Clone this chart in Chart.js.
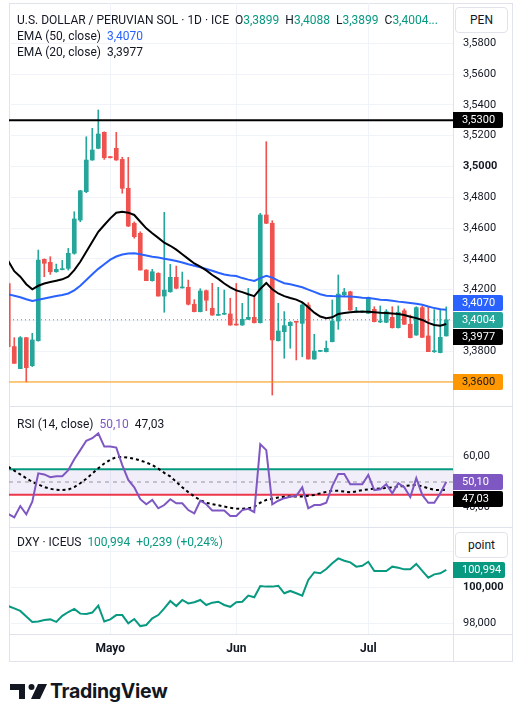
<!DOCTYPE html>
<html>
<head>
<meta charset="utf-8">
<script src="https://cdn.jsdelivr.net/npm/chart.js@4.4.1/dist/chart.umd.min.js"></script>
<style>
  body { margin: 0; background: #fff; }
  #wrap { position: relative; width: 526px; height: 711px; font-family: Roboto, "Liberation Sans", sans-serif; color: #131722; overflow: hidden; }
  #wrap canvas { position: absolute; left: 0; }
  .ln { position: absolute; background: #e0e3eb; }
  .legend { position: absolute; left: 17px; font-size: 12px; line-height: 16px; white-space: nowrap; }
  .legend span { margin-left: 6px; }
  .unit { position: absolute; left: 455px; width: 51px; height: 24px; border: 1px solid #e0e3eb; border-radius: 4px; background: #fff; font-size: 12px; line-height: 24px; text-align: center; }
  #logo { position: absolute; left: 10px; top: 682px; height: 22px; }
  #logo span { position: absolute; left: 40px; top: -3px; font-family: Inter, Roboto, sans-serif; font-weight: 700; font-size: 19.5px; letter-spacing: -0.3px; color: #131722; }
</style>
</head>
<body>
<div id="wrap">
  <div class="ln" style="left:9px;top:3px;width:503px;height:1px"></div>
  <div class="ln" style="left:9px;top:661px;width:504px;height:1px"></div>
  <div class="ln" style="left:9px;top:3px;width:1px;height:658px"></div>
  <div class="ln" style="left:512px;top:3px;width:1px;height:658px"></div>
  <div class="ln" style="left:453px;top:3px;width:1px;height:658px"></div>
  <div class="ln" style="left:9px;top:406px;width:503px;height:1px"></div>
  <div class="ln" style="left:9px;top:527px;width:503px;height:1px"></div>
  <div class="ln" style="left:9px;top:634px;width:503px;height:1px"></div>

  <canvas id="mainChart" width="526" height="406" style="top:0"></canvas>
  <canvas id="rsiChart" width="526" height="120" style="top:407px"></canvas>
  <canvas id="dxyChart" width="526" height="133" style="top:528px"></canvas>

  <div class="legend" style="top:12px">U.S. DOLLAR / PERUVIAN SOL · 1D · ICE<span>O<b style="font-weight:normal;color:#089981">3,3899</b></span><span>H<b style="font-weight:normal;color:#089981">3,4088</b></span><span>L<b style="font-weight:normal;color:#089981">3,3899</b></span><span>C<b style="font-weight:normal;color:#089981">3,4004...</b></span></div>
  <div class="legend" style="top:28px">EMA (50, close)<span style="color:#2962ff">3,4070</span></div>
  <div class="legend" style="top:44px">EMA (20, close)<span>3,3977</span></div>
  <div class="legend" style="top:416px">RSI (14, close)<span style="color:#7e57c2">50,10</span><span>47,03</span></div>
  <div class="legend" style="top:534px">DXY · ICEUS<span style="color:#089981">100,994</span><span style="color:#089981">+0,239</span><span style="color:#089981;margin-left:4px">(+0,24%)</span></div>

  <div class="unit" style="top:7px">PEN</div>
  <div class="unit" style="top:532px">point</div>

  <div id="logo">
    <svg width="40" height="18" viewBox="0 0 40 18" style="position:absolute;left:0;top:2px">
      <path d="M0 0 H15 V15 H9 V6 H0 Z" fill="#131722"/>
      <circle cx="21.5" cy="3" r="3" fill="#131722"/>
      <path d="M28 0 H37 L30 15 H21 Z" fill="#131722"/>
    </svg>
    <span>TradingView</span>
  </div>
</div>

<script>
// USD/PEN daily candles, one entry per bar
const opens = [3.4240, 3.3830, 3.3687, 3.3888, 3.3706, 3.3868, 3.4397, 3.4377, 3.4316, 3.4330,
  3.4338, 3.4436, 3.4652, 3.4836, 3.5042, 3.5118, 3.5222, 3.5064, 3.5118, 3.5046,
  3.4858, 3.4631, 3.4566, 3.4327, 3.4258, 3.4306, 3.4158, 3.4186, 3.4280, 3.4211,
  3.4215, 3.4105, 3.4057, 3.4193, 3.4079, 3.4033, 3.4040, 3.4042, 3.3972, 3.3970,
  3.4007, 3.4020, 3.3985, 3.4685, 3.4631, 3.3868, 3.3927, 3.3966, 3.3990, 3.3981,
  3.4100, 3.3749, 3.3799, 3.3797, 3.3862, 3.3996, 3.4167, 3.4186, 3.4055, 3.4055,
  3.4046, 3.4072, 3.3990, 3.3988, 3.4020, 3.3953, 3.4063, 3.3975, 3.3905, 3.4083,
  3.3899, 3.3797, 3.3791, 3.3899];
const highs = [3.4245, 3.3888, 3.3895, 3.3890, 3.3916, 3.4457, 3.4400, 3.4414, 3.4366, 3.4390,
  3.4468, 3.4706, 3.4845, 3.5193, 3.5248, 3.5367, 3.5225, 3.5066, 3.5222, 3.5060,
  3.5059, 3.4640, 3.4576, 3.4330, 3.4332, 3.4310, 3.4702, 3.4364, 3.4353, 3.4314,
  3.4262, 3.4135, 3.4206, 3.4197, 3.4241, 3.4215, 3.4197, 3.4144, 3.4240, 3.4111,
  3.4208, 3.4160, 3.4696, 3.5161, 3.4648, 3.4111, 3.4057, 3.3992, 3.3992, 3.4118,
  3.4115, 3.3910, 3.3805, 3.3866, 3.4133, 3.4295, 3.4208, 3.4190, 3.4085, 3.4062,
  3.4152, 3.4089, 3.4094, 3.4070, 3.4089, 3.4094, 3.4075, 3.4035, 3.4089, 3.4092,
  3.4089, 3.4070, 3.4074, 3.4088];
const lows = [3.3829, 3.3721, 3.3687, 3.3600, 3.3700, 3.3865, 3.4284, 3.4299, 3.4313, 3.4328,
  3.4327, 3.4430, 3.4641, 3.4830, 3.5040, 3.5115, 3.5046, 3.5055, 3.5040, 3.4826,
  3.4609, 3.4534, 3.4327, 3.4258, 3.4255, 3.4158, 3.4053, 3.4183, 3.4205, 3.4210,
  3.4100, 3.4055, 3.4055, 3.4063, 3.4033, 3.4032, 3.4038, 3.3968, 3.3968, 3.3968,
  3.4005, 3.3983, 3.3983, 3.4629, 3.3515, 3.3866, 3.3754, 3.3819, 3.3743, 3.3764,
  3.3749, 3.3747, 3.3797, 3.3795, 3.3860, 3.3942, 3.4160, 3.4065, 3.4050, 3.4052,
  3.4044, 3.3990, 3.3985, 3.3985, 3.3950, 3.3950, 3.3973, 3.3886, 3.3903, 3.3888,
  3.3797, 3.3792, 3.3789, 3.3899];
const closes = [3.3830, 3.3721, 3.3888, 3.3693, 3.3873, 3.4392, 3.4371, 3.4316, 3.4332, 3.4335,
  3.4436, 3.4659, 3.4842, 3.5042, 3.5107, 3.5211, 3.5057, 3.5057, 3.5042, 3.4858,
  3.4613, 3.4544, 3.4327, 3.4258, 3.4316, 3.4158, 3.4197, 3.4280, 3.4209, 3.4215,
  3.4105, 3.4057, 3.4191, 3.4131, 3.4035, 3.4036, 3.4043, 3.3970, 3.3970, 3.4007,
  3.4020, 3.3985, 3.4685, 3.4631, 3.3873, 3.3931, 3.3966, 3.3988, 3.3988, 3.4100,
  3.3749, 3.3801, 3.3801, 3.3819, 3.3996, 3.4171, 3.4184, 3.4067, 3.4060, 3.4058,
  3.4150, 3.3992, 3.3996, 3.4057, 3.3953, 3.4053, 3.3975, 3.3888, 3.4083, 3.3890,
  3.3797, 3.3800, 3.3890, 3.4004];

// indicator lines as they appear on the chart
const ema50 = [3.4170, 3.4160, 3.4150, 3.4137, 3.4126, 3.4134, 3.4142, 3.4150, 3.4158, 3.4165,
  3.4175, 3.4195, 3.4225, 3.4262, 3.4300, 3.4335, 3.4365, 3.4395, 3.4415, 3.4428,
  3.4434, 3.4436, 3.4430, 3.4422, 3.4414, 3.4408, 3.4401, 3.4394, 3.4386, 3.4376,
  3.4365, 3.4355, 3.4345, 3.4334, 3.4323, 3.4310, 3.4298, 3.4292, 3.4288, 3.4275,
  3.4265, 3.4256, 3.4275, 3.4290, 3.4278, 3.4258, 3.4242, 3.4235, 3.4225, 3.4215,
  3.4200, 3.4185, 3.4170, 3.4160, 3.4158, 3.4157, 3.4156, 3.4155, 3.4152, 3.4148,
  3.4145, 3.4140, 3.4135, 3.4132, 3.4128, 3.4122, 3.4118, 3.4113, 3.4108, 3.4102,
  3.4090, 3.4080, 3.4072, 3.4070];
const ema20 = [3.4386, 3.4320, 3.4284, 3.4235, 3.4202, 3.4225, 3.4240, 3.4249, 3.4258, 3.4267,
  3.4284, 3.4327, 3.4381, 3.4446, 3.4511, 3.4576, 3.4620, 3.4663, 3.4700, 3.4706,
  3.4700, 3.4685, 3.4641, 3.4598, 3.4566, 3.4536, 3.4505, 3.4485, 3.4460, 3.4430,
  3.4400, 3.4370, 3.4350, 3.4325, 3.4295, 3.4270, 3.4240, 3.4215, 3.4195, 3.4184,
  3.4170, 3.4158, 3.4205, 3.4243, 3.4202, 3.4175, 3.4158, 3.4146, 3.4135, 3.4118,
  3.4085, 3.4050, 3.4025, 3.4014, 3.4020, 3.4042, 3.4048, 3.4053, 3.4056, 3.4057,
  3.4056, 3.4053, 3.4050, 3.4048, 3.4045, 3.4042, 3.4035, 3.4024, 3.4015, 3.4003,
  3.3984, 3.3970, 3.3966, 3.3977];
const rsi = [37.4, 36.0, 40.5, 37.2, 42.2, 53.4, 53.0, 51.9, 52.3, 52.3,
  54.7, 59.0, 62.6, 66.3, 67.3, 69.2, 64.0, 64.0, 63.6, 56.7,
  50.8, 47.9, 43.2, 41.2, 42.9, 39.6, 40.9, 43.2, 41.6, 41.6,
  38.9, 37.6, 42.6, 41.2, 38.7, 38.7, 38.7, 36.6, 36.6, 38.9,
  39.4, 38.1, 64.9, 62.6, 41.2, 42.6, 43.6, 44.2, 44.5, 47.9,
  39.6, 40.9, 40.9, 41.8, 48.4, 53.2, 53.2, 49.1, 49.1, 49.1,
  52.8, 46.8, 47.1, 49.1, 45.5, 49.5, 47.9, 44.0, 51.5, 44.9,
  41.8, 41.8, 45.5, 50.1];
const rsiMa = [56.0, 54.5, 53.0, 51.5, 50.0, 49.0, 48.0, 47.3, 46.9, 46.8,
  47.0, 48.0, 49.5, 51.3, 53.3, 55.4, 57.3, 58.8, 59.8, 59.9,
  59.6, 59.2, 58.5, 57.7, 56.7, 55.3, 53.6, 52.2, 50.1, 47.9,
  46.0, 44.3, 42.8, 41.8, 41.2, 40.8, 40.3, 39.8, 39.5, 39.4,
  39.6, 40.2, 41.8, 42.9, 43.4, 43.9, 44.2, 44.3, 44.3, 44.3,
  44.6, 44.9, 45.5, 46.1, 46.6, 46.5, 46.2, 45.9, 46.3, 46.8,
  47.1, 47.3, 47.4, 47.6, 47.9, 48.2, 48.4, 48.6, 48.8, 48.3,
  47.5, 46.9, 46.8, 47.03];
const dxy = [98.98, 98.85, 98.71, 98.40, 98.10, 98.12, 98.21, 98.24, 98.10, 98.44,
  98.65, 98.82, 98.56, 98.54, 98.62, 99.00, 98.12, 98.24, 98.48, 98.48,
  98.02, 98.26, 97.87, 97.93, 98.30, 98.48, 98.85, 99.26, 98.98, 99.32,
  99.13, 99.19, 99.32, 99.04, 99.17, 99.22, 99.04, 98.94, 99.19, 99.22,
  99.56, 99.47, 100.09, 100.06, 100.06, 100.11, 99.69, 99.82, 99.69, 99.56,
  100.43, 100.86, 100.80, 101.04, 101.36, 101.63, 101.50, 101.41, 101.17, 101.22,
  101.44, 100.93, 100.93, 100.93, 101.17, 101.11, 101.02, 101.02, 101.32, 100.93,
  100.56, 100.74, 100.80, 100.994];

// levels and axes
const resistance = 3.53;
const support = 3.36;
const lastClose = 3.4004;
const priceTicks = [3.36, 3.38, 3.40, 3.42, 3.44, 3.46, 3.48, 3.50, 3.52, 3.54, 3.56, 3.58];
const rsiTicks = [40, 60];
const dxyTicks = [98, 100, 102];
const monthTicks = [17, 38, 60];
const monthLabels = ['Mayo', 'Jun', 'Jul'];

const FONT = 'Roboto, "Liberation Sans", sans-serif';
const TEAL = '#26a69a', RED = '#ef5350';
const X_MIN = 0.12, X_MAX = 74.12;
const bars = opens.map((_, i) => i);

const comma = (v, d) => v.toFixed(d).replace('.', ',');
const series = arr => arr.map((v, i) => ({ x: bars[i], y: v }));
const hline = v => [{ x: X_MIN, y: v }, { x: X_MAX, y: v }];

// value tags on the price scale, nudged apart around the anchored one
const valueBoxes = {
    id: 'valueBoxes',
    afterDraw(chart, args, opts) {
        if (!opts.items) return;
        const ys = chart.scales.y, ctx = chart.ctx, h = 16, right = chart.chartArea.right;
        const items = opts.items.map(it => Object.assign({}, it, { py: ys.getPixelForValue(it.value) }));
        const anchor = items.find(it => it.anchor);
        if (anchor) {
            items.forEach(it => {
                if (it === anchor || it.free) return;
                if (it.value > anchor.value) it.py = Math.min(it.py, anchor.py - h - 1);
                else it.py = Math.max(it.py, anchor.py + h + 1);
            });
        }
        ctx.save();
        ctx.font = '11px ' + FONT;
        ctx.textBaseline = 'middle';
        items.forEach(it => {
            ctx.fillStyle = it.bg;
            ctx.beginPath();
            ctx.roundRect(right, Math.round(it.py - h / 2), it.w || 50, h, [0, 2, 2, 0]);
            ctx.fill();
            ctx.fillStyle = it.fg || '#fff';
            ctx.fillText(it.text, right + 9, Math.round(it.py) + 0.5);
        });
        ctx.restore();
    }
};

function timeAxis(showLabels) {
    return {
        type: 'linear', min: X_MIN, max: X_MAX, offset: false,
        afterBuildTicks: s => { s.ticks = monthTicks.map(v => ({ value: v })); },
        afterFit: s => { s.height = showLabels ? 27 : 0; s.paddingLeft = 0; s.paddingRight = 0; },
        grid: { color: '#f0f3fa', drawTicks: false, offset: false },
        border: { display: false },
        ticks: {
            display: showLabels, padding: 8, maxRotation: 0, autoSkip: false,
            color: '#131722', font: { family: FONT, size: 12, weight: 'bold' },
            callback: v => monthLabels[monthTicks.indexOf(v)]
        }
    };
}

function valueAxis(min, max, ticks, decimals, boldValue, hidden) {
    return {
        position: 'right', min: min, max: max,
        afterBuildTicks: s => { s.ticks = ticks.map(v => ({ value: v })); },
        afterFit: s => { s.width = 73; s.paddingTop = 0; s.paddingBottom = 0; },
        grid: { color: '#f0f3fa', drawTicks: false },
        border: { display: false },
        ticks: {
            padding: 10, color: '#131722',
            font: c => ({ family: FONT, size: 11, weight: c.tick && Math.abs(c.tick.value - boldValue) < 1e-9 ? 'bold' : 'normal' }),
            callback: v => hidden.some(h => Math.abs(h - v) < 1e-9) ? '' : comma(v, decimals)
        }
    };
}

const baseOptions = {
    responsive: false,
    animation: false,
    events: [],
    plugins: { legend: { display: false }, tooltip: { enabled: false } }
};

function renderMainChart() {
    const ctx = document.getElementById('mainChart').getContext('2d');
    const colors = bars.map(i => closes[i] >= opens[i] ? TEAL : RED);
    new Chart(ctx, {
        type: 'bar',
        data: {
            datasets: [
                { type: 'line', data: series(ema20), borderColor: '#000', borderWidth: 2, pointRadius: 0, order: 0 },
                { type: 'line', data: series(ema50), borderColor: '#2962ff', borderWidth: 2, pointRadius: 0, order: 1 },
                { type: 'line', data: hline(resistance), borderColor: '#000', borderWidth: 2, pointRadius: 0, order: 2 },
                { type: 'line', data: hline(support), borderColor: '#ff9800', borderWidth: 1, pointRadius: 0, order: 2 },
                { type: 'line', data: hline(lastClose), borderColor: TEAL, borderWidth: 1, borderDash: [1, 3], pointRadius: 0, order: 2 },
                {
                    data: bars.map(i => ({ x: i, y: [Math.min(opens[i], closes[i]), Math.max(opens[i], closes[i])] })),
                    backgroundColor: colors, barThickness: 4, minBarLength: 1, grouped: false, order: 3
                },
                {
                    data: bars.map(i => ({ x: i, y: [lows[i], highs[i]] })),
                    backgroundColor: colors, barThickness: 1, minBarLength: 1, grouped: false, order: 4
                }
            ]
        },
        options: Object.assign({}, baseOptions, {
            layout: { padding: { left: 9, top: 3, right: 0, bottom: 0 } },
            scales: {
                x: timeAxis(false),
                y: valueAxis(3.3444, 3.6062, priceTicks, 4, 3.50, [3.36, 3.40])
            },
            plugins: Object.assign({}, baseOptions.plugins, {
                valueBoxes: {
                    items: [
                        { value: resistance, text: comma(resistance, 4), bg: '#000', free: true },
                        { value: support, text: comma(support, 4), bg: '#ff9800', fg: '#131722', free: true },
                        { value: ema50[ema50.length - 1], text: comma(ema50[ema50.length - 1], 4), bg: '#2962ff' },
                        { value: lastClose, text: comma(lastClose, 4), bg: TEAL, anchor: true },
                        { value: ema20[ema20.length - 1], text: comma(ema20[ema20.length - 1], 4), bg: '#000' }
                    ]
                }
            })
        }),
        plugins: [valueBoxes]
    });
}

function renderRsiChart() {
    const ctx = document.getElementById('rsiChart').getContext('2d');
    new Chart(ctx, {
        type: 'line',
        data: {
            datasets: [
                { data: series(rsi), borderColor: '#7e57c2', borderWidth: 2, pointRadius: 0, order: 0 },
                { data: series(rsiMa), borderColor: '#000', borderWidth: 2, borderDash: [3, 3], pointRadius: 0, order: 1 },
                { data: hline(50), borderColor: '#9598a1', borderWidth: 1, borderDash: [4, 4], pointRadius: 0, order: 2 },
                { data: hline(55), borderColor: '#089981', borderWidth: 2, pointRadius: 0, order: 3,
                  fill: { value: 45 }, backgroundColor: 'rgba(126, 87, 194, 0.1)' },
                { data: hline(45), borderColor: '#f23645', borderWidth: 2, pointRadius: 0, order: 3 }
            ]
        },
        options: Object.assign({}, baseOptions, {
            layout: { padding: { left: 9, top: 0, right: 0, bottom: 0 } },
            scales: {
                x: timeAxis(false),
                y: valueAxis(32.21, 79.64, rsiTicks, 2, -1, [])
            },
            plugins: Object.assign({}, baseOptions.plugins, {
                valueBoxes: {
                    items: [
                        { value: rsi[rsi.length - 1], text: comma(rsi[rsi.length - 1], 2), bg: '#7e57c2', anchor: true },
                        { value: rsiMa[rsiMa.length - 1], text: comma(rsiMa[rsiMa.length - 1], 2), bg: '#000' }
                    ]
                }
            })
        }),
        plugins: [valueBoxes]
    });
}

function renderDxyChart() {
    const ctx = document.getElementById('dxyChart').getContext('2d');
    new Chart(ctx, {
        type: 'line',
        data: {
            datasets: [
                { data: series(dxy), borderColor: '#089981', borderWidth: 2, pointRadius: 0 }
            ]
        },
        options: Object.assign({}, baseOptions, {
            layout: { padding: { left: 9, top: 0, right: 0, bottom: 0 } },
            scales: {
                x: timeAxis(true),
                y: valueAxis(97.428, 103.317, dxyTicks, 3, 100, [102])
            },
            plugins: Object.assign({}, baseOptions.plugins, {
                valueBoxes: {
                    items: [
                        { value: dxy[dxy.length - 1], text: comma(dxy[dxy.length - 1], 3), bg: '#089981', w: 52 }
                    ]
                }
            })
        }),
        plugins: [valueBoxes]
    });
}

renderMainChart();
renderRsiChart();
renderDxyChart();
</script>
</body>
</html>
